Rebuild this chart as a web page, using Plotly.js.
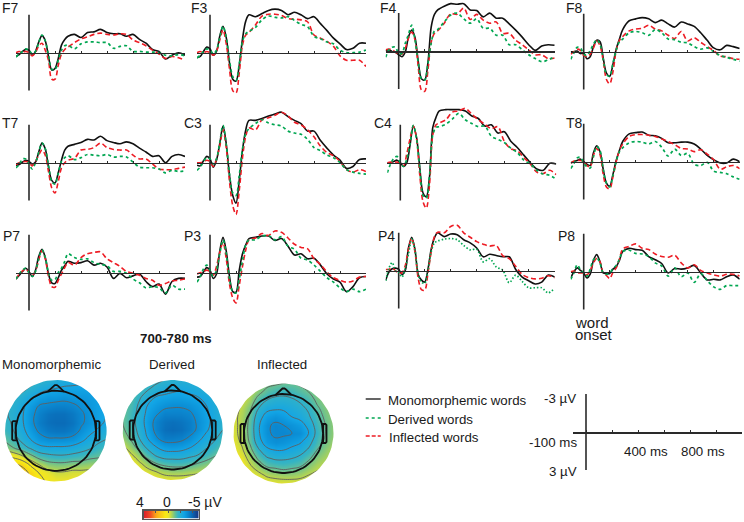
<!DOCTYPE html>
<html>
<head>
<meta charset="utf-8">
<script src="https://cdn.plot.ly/plotly-3.0.1.min.js"></script>
<style>html,body{margin:0;padding:0;background:#fff}#chart{width:744px;height:522px}</style>
</head>
<body>
<div id="chart"></div>
<script>
// Time in ms and amplitude in microvolts. Negative potentials are drawn upward in the figure; values below are stored as height above the baseline in the figure's own up direction.
const times = [-100,-75,-50,-25,0,25,50,75,100,125,150,175,200,225,250,275,300,350,400,450,500,550,600,650,700,750,800,850,900,950,1000,1050,1100,1150,1200];

const F7_mono = [-.3,-.15,.1,.25,.2,-.2,.1,.85,1.35,.95,-.3,-1.37,-1.25,-.45,.6,1.05,1.3,1.45,1.2,1.6,1.65,1.85,1.6,1.5,1.5,1.3,1.45,1.05,.75,.25,.1,-.5,-.2,0,-.2];
const F7_inflected = [0,.1,.05,.1,0,-.25,0,.55,.75,.2,-.6,-2.1,-2.1,-1.0,-.1,.25,.45,.8,1.1,1.25,1.45,1.55,1.45,1.4,1.5,1.45,1.0,.8,.55,.2,-.1,-.45,-.3,-.4,-.6];
const F7_derived = [-.35,-.1,.1,.3,.2,-.1,.1,.8,1.4,.95,-.2,-1.3,-1.35,-.6,.2,.55,.6,.3,.7,.85,.85,.8,.8,.35,.5,.55,.1,.1,.05,.05,0,-.2,-.25,-.15,-.25];

const F3_mono = [-.4,-.3,.1,.45,.3,-.2,.1,1.3,2.1,1.2,-.8,-2.1,-2.25,-1.0,1.1,2.5,3.0,2.85,3.1,3.35,3.45,3.35,3.0,3.2,3.0,2.7,2.85,2.3,1.75,1.15,.7,.25,.35,.75,.75];
const F3_inflected = [0,.1,0,.1,0,-.2,.1,1.0,1.8,.7,-1.3,-3.0,-3.2,-1.6,.6,1.4,1.6,2.2,2.9,3.05,3.05,2.95,2.7,2.65,2.6,2.45,1.4,1.15,.9,.5,-.25,-.6,-.6,-.6,-1.1];
const F3_derived = [-.4,-.2,.1,.3,.2,-.1,.2,1.2,2.1,1.2,-.6,-1.9,-2.2,-.9,.9,1.5,1.7,2.0,2.6,2.9,2.8,2.75,2.85,2.55,2.25,2.05,1.3,1.1,.85,.7,.2,0,0,.05,.2];

const F4_mono = [0,.1,-.05,-.1,-.3,-.45,-.1,1.1,1.65,1.1,-.8,-2.2,-2.3,-.9,1.9,2.9,3.25,3.55,3.75,3.7,3.75,3.25,3.2,2.7,3.0,2.6,2.6,2.15,1.65,1.1,.5,.05,.4,.5,.45];
const F4_inflected = [.1,.15,.1,-.1,-.2,-.25,.2,1.0,1.5,.9,-1.2,-3.1,-3.2,-1.5,.7,1.4,1.6,2.2,2.95,2.9,3.4,2.5,2.9,2.45,2.2,2.3,1.4,1.4,.85,.5,.1,-.3,-.3,-.6,-.55];
const F4_derived = [-.5,.1,.3,.3,-.2,-.2,.6,1.3,2.05,.9,-.9,-2.2,-2.3,-1.0,.6,1.6,1.7,2.3,2.85,3.0,2.55,2.2,2.55,1.8,1.8,1.25,1.25,.5,.5,.1,-.3,-.6,-.85,-.7,-.45];

const F8_mono = [0,0,.05,-.15,-.1,-.55,-.4,.4,.9,.8,-.5,-1.7,-1.95,-1.0,.2,1.0,1.75,2.45,2.6,2.7,2.6,2.3,2.5,2.2,1.95,2.35,2.2,2.0,1.5,.9,.3,.15,.5,.4,.25];
const F8_inflected = [-.2,0,.2,.1,-.3,-.4,-.2,.3,.85,.5,-.7,-2.2,-2.55,-1.6,.1,.9,1.2,1.65,1.8,1.85,2.1,1.8,1.65,1.3,1.05,1.6,.85,1.1,.75,.4,.1,-.35,-.4,-.55,-.6];
const F8_derived = [-.6,-.1,.35,.3,-.2,-.3,.1,.6,.95,.6,-.6,-1.8,-1.95,-.9,.1,.8,1.0,1.5,1.6,1.5,1.3,1.75,1.5,1.0,.95,.75,.7,.4,.2,.3,0,-.3,-.45,-.6,-.75];

const T7_mono = [-.2,-.15,.05,.2,.1,-.1,.05,.85,1.55,1.1,-.35,-1.4,-1.6,-.8,.2,1.0,1.3,1.45,1.6,1.85,1.8,2.1,1.75,1.6,1.5,1.65,1.5,1.15,.85,.5,.55,0,.5,.65,.5];
const T7_inflected = [-.15,0,.05,.1,0,-.25,.1,.6,1.0,.6,-.7,-2.0,-2.4,-1.5,-.4,0,.2,.35,1.0,1.05,1.2,1.55,1.2,1.05,1.0,1.0,.6,.3,.3,-.1,-.5,-.55,-.55,-.45,-.35];
const T7_derived = [-.4,-.15,.3,.3,-.1,-.5,0,.8,1.55,1.1,-.2,-1.5,-1.7,-.85,.1,.4,.55,.25,.4,.65,.6,.55,.65,.45,.5,.45,.05,-.35,-.4,-.4,-.5,-.8,-.6,-.7,-.65];

const C3_mono = [-.2,-.25,.15,.5,.3,-.35,.2,1.5,2.9,1.5,-1.0,-2.6,-3.2,-1.4,1.0,2.6,3.35,3.35,3.5,3.7,3.85,4.0,3.65,3.35,3.1,2.5,2.5,1.75,1.15,.6,.2,-.45,-.3,.25,.3];
const C3_inflected = [0,0,.1,.2,.1,-.3,.3,1.3,2.6,1.2,-1.5,-3.4,-4.1,-2.2,.4,2.1,2.75,2.6,3.4,3.55,3.75,4.0,3.7,3.2,3.0,2.6,2.05,1.3,.8,.55,.1,-.55,-.75,-.55,-.7];
const C3_derived = [-.6,-.35,.1,.4,.3,-.1,.3,1.6,2.95,1.4,-.9,-2.4,-2.6,-1.0,1.1,2.3,2.7,3.1,3.4,3.15,3.0,2.9,2.5,2.35,2.25,1.85,1.2,.95,.6,.4,0,-.55,-.75,-.85,-.9];

const C4_mono = [0,0,.1,.2,0,-.3,0,1.4,2.9,2.0,-.4,-2.4,-2.7,-1.1,2.8,3.6,4.1,4.2,4.2,4.2,4.1,3.7,3.5,2.9,3.0,2.35,2.45,1.7,1.2,.6,0,-.5,-.6,-.05,-.1];
const C4_inflected = [0,.05,0,.05,-.1,-.25,.7,1.9,2.9,1.9,-1.0,-3.1,-3.6,-1.7,2.2,3.0,3.15,3.4,4.0,4.1,4.3,3.85,3.4,3.05,2.7,2.85,1.7,1.1,.95,.4,-.1,-.75,-.85,-.6,-.95];
const C4_derived = [-.8,-.1,.35,.5,0,-.3,.3,1.5,2.95,1.9,-.5,-2.6,-2.8,-1.0,2.2,2.8,2.85,3.05,3.45,3.9,3.4,3.1,2.85,2.9,2.1,1.85,1.6,1.15,.8,.2,-.1,-.6,-.9,-1.0,-1.3];

const T8_mono = [-.1,0,.1,.2,0,-.2,-.3,.7,1.25,.8,-.6,-1.7,-1.95,-1.0,.1,.9,1.6,2.2,2.3,2.35,2.1,2.05,1.85,1.5,1.5,1.55,1.55,1.4,1.0,.5,.15,-.1,-.1,.2,0];
const T8_inflected = [-.1,.05,.1,.1,0,-.3,-.4,.5,1.05,.6,-1.0,-2.0,-2.15,-1.2,0,.9,1.4,2.0,2.15,2.15,2.1,2.0,1.8,1.6,1.35,1.05,1.0,.8,.95,.6,.15,-.6,-.4,-.3,-.55];
const T8_derived = [-.55,-.15,.3,.35,-.1,-.4,-.5,.4,1.2,.9,-.6,-1.7,-2.0,-1.1,0,.8,1.1,1.5,1.6,1.55,1.4,1.6,1.15,.45,1.0,.5,.65,-.2,-.3,-.05,-.75,-.85,-.95,-1.2,-1.4];

const P7_mono = [-.5,-.2,.1,.35,.1,-.3,.2,1.3,1.85,1.2,-.1,-.8,-.85,-.4,.2,.55,.9,.75,.8,.95,.6,.75,.45,-.45,-.05,-.4,-.25,-.1,-.7,-1.1,-.9,-1.7,-.7,-.45,-.45];
const P7_inflected = [-.5,-.1,.15,.3,0,-.2,.1,1.0,1.75,1.1,-.3,-1.1,-1.15,-.6,-.1,.4,.8,.6,1.2,1.5,1.6,1.65,1.1,.8,.5,.1,-.05,-.2,-.45,-.6,-1.0,-.85,-.65,-.6,-.5];
const P7_derived = [-.5,-.1,.2,.35,0,-.3,.1,1.1,1.8,1.2,0,-.6,-.55,0,.35,.9,1.5,1.2,1.05,1.1,.8,.65,.55,.1,.1,-.05,-.5,-.8,-1.2,-1.1,-1.2,-1.6,-1.0,-1.3,-1.3];

const P3_mono = [-.35,-.3,.05,.4,.2,-.45,-.1,1.7,2.8,1.7,-.3,-1.5,-1.55,.2,1.5,2.2,2.7,2.8,2.9,2.9,2.55,2.7,2.1,1.4,1.5,1.1,1.15,.6,-.1,-.5,-.75,-1.5,-1.1,-.4,-.3];
const P3_inflected = [-.1,0,.1,.2,.1,-.2,.5,1.6,2.4,1.1,-.9,-2.0,-2.4,-1.0,.5,1.8,2.6,2.75,3.1,2.95,3.3,3.2,2.75,2.25,2.0,1.9,1.1,.65,.05,-.4,-.6,-.75,-.65,-.35,-.3];
const P3_derived = [-.75,-.3,.3,.6,.2,-.3,.2,1.5,2.6,1.5,-.5,-1.5,-1.6,-.5,1.0,2.2,2.6,2.6,2.9,2.95,2.6,2.85,2.1,1.85,1.15,1.0,.6,.1,-.4,-.75,-1.2,-1.5,-1.3,-1.5,-1.3];

const P4_mono = [-.75,-.1,.15,.2,.1,-.3,0,1.8,2.65,1.7,-.3,-.75,-.9,.1,1.7,2.6,3.0,2.7,2.9,2.85,2.45,2.2,1.8,1.1,1.3,1.2,1.1,1.1,.1,-.5,-.8,-1.05,-.9,-.35,-.5];
const P4_inflected = [.1,.1,.2,0,-.2,-.15,.4,1.7,2.55,1.5,-.6,-1.5,-1.55,-.2,1.5,2.7,3.05,3.0,3.5,3.6,3.0,2.65,2.3,2.1,1.95,2.0,1.2,.95,.35,-.3,-.55,-.65,-.6,-.4,-.55];
const P4_derived = [-.8,.2,.65,0,-.15,-.5,.2,1.3,2.5,1.6,-.3,-.9,-1.0,0,1.5,2.2,2.35,2.5,2.55,2.45,2.0,1.65,1.7,.7,.95,.3,.05,-.95,-.35,-.85,-1.35,-1.35,-1.35,-1.75,-1.4];

const P8_mono = [-.5,0,.3,.1,-.1,-.5,-.2,.9,1.35,.8,-.1,-.15,-.15,.2,.4,.9,1.6,1.85,1.75,1.7,1.2,.95,.65,-.1,.25,.2,.3,.5,-.1,-.65,-.6,-.65,-.4,-.25,-.6];
const P8_inflected = [0,.05,-.1,-.1,-.1,-.25,.1,.7,1.05,.8,-.1,-.3,-.55,-.05,.3,1.0,1.8,2.0,2.2,1.85,1.75,1.4,1.2,1.15,1.3,.7,.3,.55,.1,-.1,-.25,-.35,-.2,-.2,-.35];
const P8_derived = [-.6,-.1,.55,.15,-.1,-.35,.2,.95,1.1,.7,-.1,-.2,-.1,.25,.5,1.0,1.6,1.7,1.45,1.4,1.2,.7,.45,-.35,.3,-.4,-.1,-.85,-.15,-.7,-1.2,-1.4,-1.1,-1.1,-1.1];

// Scalp maps: potential in microvolts on a coarse grid, first row = back of the head (bottom).
const gridAxis = [-1,-.833,-.667,-.5,-.333,-.167,0,.167,.333,.5,.667,.833,1];
const mapMono = [
[1.6,1.6,1.4,1.1,.7,.3,.1,.1,.1,.1,.1,.05,0],
[1.6,1.6,1.4,1.0,.4,0,-.2,-.2,-.1,-.1,-.1,-.2,-.2],
[1.4,1.2,1.0,.3,-.3,-.7,-.8,-.8,-.7,-.7,-.6,-.6,-.6],
[.5,.2,-.2,-.8,-1.3,-1.5,-1.6,-1.6,-1.5,-1.4,-1.2,-1.1,-1.0],
[-.7,-1.0,-1.4,-1.8,-2.2,-2.3,-2.3,-2.3,-2.2,-2.0,-1.8,-1.5,-1.4],
[-1.1,-1.4,-1.9,-2.4,-2.8,-3.0,-3.0,-3.0,-2.9,-2.6,-2.2,-1.9,-1.7],
[-1.4,-1.7,-2.2,-2.7,-3.2,-3.5,-3.6,-3.6,-3.4,-3.0,-2.6,-2.3,-2.0],
[-1.5,-1.8,-2.3,-2.9,-3.4,-3.7,-3.8,-3.8,-3.6,-3.2,-2.9,-2.6,-2.3],
[-1.6,-1.9,-2.3,-2.9,-3.3,-3.6,-3.7,-3.7,-3.5,-3.2,-2.9,-2.6,-2.4],
[-1.5,-1.8,-2.2,-2.7,-3.1,-3.2,-3.3,-3.3,-3.2,-3.0,-2.8,-2.6,-2.4],
[-1.3,-1.6,-1.9,-2.3,-2.6,-2.8,-2.8,-2.9,-2.8,-2.8,-2.7,-2.6,-2.5],
[-1.2,-1.3,-1.5,-1.8,-2.1,-2.3,-2.4,-2.5,-2.5,-2.5,-2.5,-2.5,-2.4],
[-1.0,-1.1,-1.2,-1.4,-1.6,-1.8,-2.0,-2.1,-2.2,-2.3,-2.4,-2.4,-2.4]];
const mapDerived = [
[.8,.6,.4,.2,.1,0,0,0,0,0,0,0,0],
[.7,.5,.2,-.1,-.3,-.5,-.6,-.6,-.5,-.4,-.3,-.2,-.1],
[.5,.2,-.2,-.6,-1.0,-1.2,-1.3,-1.3,-1.2,-1.0,-.8,-.6,-.4],
[.2,-.2,-.7,-1.3,-1.8,-2.1,-2.1,-2.1,-1.9,-1.7,-1.4,-1.1,-.8],
[-.2,-.7,-1.3,-1.9,-2.4,-2.7,-2.8,-2.7,-2.5,-2.2,-1.8,-1.5,-1.1],
[-.6,-1.1,-1.7,-2.4,-3.0,-3.4,-3.4,-3.3,-3.0,-2.6,-2.2,-1.8,-1.4],
[-.9,-1.3,-1.9,-2.6,-3.3,-3.7,-3.8,-3.7,-3.4,-3.0,-2.5,-2.1,-1.7],
[-1.0,-1.4,-2.0,-2.7,-3.3,-3.6,-3.7,-3.6,-3.4,-3.0,-2.6,-2.2,-1.8],
[-1.0,-1.4,-1.9,-2.6,-3.0,-3.3,-3.3,-3.3,-3.2,-2.9,-2.5,-2.2,-1.8],
[-1.0,-1.3,-1.8,-2.4,-2.7,-2.9,-3.0,-3.0,-2.9,-2.7,-2.4,-2.1,-1.8],
[-1.0,-1.2,-1.6,-2.0,-2.4,-2.5,-2.6,-2.6,-2.5,-2.4,-2.2,-1.9,-1.7],
[-.9,-1.1,-1.3,-1.6,-1.9,-2.1,-2.2,-2.3,-2.2,-2.1,-1.9,-1.7,-1.5],
[-.8,-.9,-1.1,-1.3,-1.5,-1.7,-1.8,-1.9,-1.9,-1.8,-1.7,-1.5,-1.3]];
const mapInflected = [
[.3,.3,.3,.2,.1,0,0,0,0,0,0,0,0],
[.3,.3,.1,-.1,-.4,-.5,-.6,-.6,-.5,-.3,-.2,-.1,-.1],
[.3,.2,-.2,-.6,-1.0,-1.1,-1.2,-1.1,-1.0,-.7,-.4,-.3,-.2],
[.3,0,-.5,-1.1,-1.6,-1.8,-1.8,-1.7,-1.5,-1.1,-.7,-.5,-.3],
[.1,-.2,-.8,-1.6,-2.2,-2.4,-2.4,-2.2,-2.0,-1.6,-1.0,-.7,-.4],
[0,-.4,-1.1,-2.1,-2.8,-3.0,-2.9,-2.7,-2.5,-2.0,-1.3,-.9,-.6],
[-.1,-.5,-1.2,-2.3,-3.0,-3.2,-3.2,-3.1,-3.0,-2.4,-1.5,-1.0,-.7],
[-.1,-.5,-1.2,-2.3,-3.0,-3.2,-3.1,-2.9,-2.7,-2.2,-1.4,-1.0,-.7],
[-.1,-.5,-1.1,-2.1,-2.7,-2.9,-2.7,-2.4,-2.2,-1.8,-1.3,-.9,-.7],
[0,-.4,-.9,-1.7,-2.2,-2.3,-2.3,-2.1,-1.9,-1.6,-1.1,-.8,-.6],
[.1,-.2,-.6,-1.3,-1.7,-1.9,-1.9,-1.8,-1.6,-1.3,-.9,-.7,-.5],
[.2,-.1,-.4,-.8,-1.2,-1.4,-1.5,-1.4,-1.2,-1.0,-.7,-.5,-.4],
[.2,0,-.2,-.5,-.8,-.9,-1.0,-1.0,-.9,-.7,-.5,-.4,-.3]];
const colorbarValues = [4,3.5,3,2.5,2,1.5,1,.5,0,-.5,-1,-1.5,-2,-2.5,-3,-3.5,-4,-4.5,-5];
const colorbarRow = [0,1];

// Head outline in units of the coloured disc radius
const noseX = [-.16,-.05,-.02,.02,.05,.16];
const noseY = [.77,.88,.90,.90,.88,.77];
const earX = [.77,.84,.86,.86,.84,.77];
const earY = [.19,.19,.17,-.17,-.19,-.19];
const earInnerX = [.80,.80];
const earInnerY = [.17,-.17];

const seriesNames = ['Monomorphemic words','Derived words','Inflected words'];
const seriesStyle = {
  mono: {color:'#111111', width:1.6, dash:'solid'},
  inflected: {color:'#ed1c24', width:1.6, dash:'5px,3px'},
  derived: {color:'#00a651', width:1.7, dash:'3px,3px'}
};
const mapScale = [[0,'#1b2f7b'],[.133,'#0a6cb8'],[.22,'#0b8fd6'],[.28,'#12a5e6'],[.39,'#35b4c4'],[.45,'#6cc28f'],[.5,'#a8d25c'],[.56,'#ebe32a'],[.62,'#f8ea14'],[.78,'#f9a51b'],[.88,'#f04e23'],[1,'#d9202a']];

const W = 744, H = 522, PX_UV = 12.63, PX_MS = 0.13;
const px = v => v / W, py = v => 1 - v / H;

const panels = [
 ['F7',F7_mono,F7_derived,F7_inflected,29,52.7,2,8],
 ['F3',F3_mono,F3_derived,F3_inflected,210,52.7,191,8],
 ['F4',F4_mono,F4_derived,F4_inflected,398.7,51,380,8],
 ['F8',F8_mono,F8_derived,F8_inflected,583.7,51.7,566,8],
 ['T7',T7_mono,T7_derived,T7_inflected,29,162.7,2,123],
 ['C3',C3_mono,C3_derived,C3_inflected,210,162.7,184,123],
 ['C4',C4_mono,C4_derived,C4_inflected,400.3,162.7,374,123],
 ['T8',T8_mono,T8_derived,T8_inflected,583.7,161.7,566,123],
 ['P7',P7_mono,P7_derived,P7_inflected,29,272.7,3,236],
 ['P3',P3_mono,P3_derived,P3_inflected,210,272.7,184,236],
 ['P4',P4_mono,P4_derived,P4_inflected,398.7,270.7,378,236],
 ['P8',P8_mono,P8_derived,P8_inflected,583.7,271.7,558,236]
];

const data = [], annotations = [], shapes = [];
const layout = {width:W,height:H,margin:{l:0,r:0,t:0,b:0},paper_bgcolor:'#fff',plot_bgcolor:'rgba(0,0,0,0)',showlegend:false,hovermode:false,font:{family:'"Liberation Sans", Arial, sans-serif',size:13.3,color:'#1a1a1a'},annotations,shapes};
let axisCount = 0;

function note(text,x,y,anchor,opts){
  annotations.push(Object.assign({text,x:px(x),y:py(y),xref:'paper',yref:'paper',xanchor:anchor||'left',yanchor:'middle',showarrow:false,font:{size:13.3},borderpad:0,borderwidth:0},opts||{}));
}
function erpAxes(ax,zero){
  axisCount++;
  const n = axisCount, xn = n===1?'x':'x'+n, yn = n===1?'y':'y'+n;
  const hi = Math.min(4.7,(zero-0.5)/PX_UV), lo = -4.7;
  layout['xaxis'+(n===1?'':n)] = {domain:[px(ax-100*PX_MS),px(ax+1200*PX_MS)],range:[-100,1200],anchor:'free',position:py(zero),showline:true,linecolor:'#2a2a2a',linewidth:1.5,ticks:'inside',ticklen:2,tickwidth:1,tickcolor:'#2a2a2a',tick0:0,dtick:200,showticklabels:false,showgrid:false,zeroline:false,fixedrange:true};
  layout['yaxis'+(n===1?'':n)] = {domain:[py(zero-lo*PX_UV),py(zero-hi*PX_UV)],range:[lo,hi],anchor:xn,showline:false,showticklabels:false,ticks:'',showgrid:false,zeroline:false,fixedrange:true};
  // the vertical axis runs from -3 to 3 microvolts
  data.push({type:'scatter',mode:'lines',x:[0,0],y:[-3,3],xaxis:xn,yaxis:yn,line:{color:'#2a2a2a',width:1.6},hoverinfo:'skip'});
  return [xn,yn];
}

panels.forEach(p=>{
  const [name,mono,derived,inflected,ax,zero,lx,ly] = p;
  const [xn,yn] = erpAxes(ax,zero);
  [[mono,'mono',0],[inflected,'inflected',2],[derived,'derived',1]].forEach(s=>{
    const style = Object.assign({},seriesStyle[s[1]]);
    if(name==='P4' && s[1]==='derived') style.dash='1.5px,2px';
    data.push({type:'scatter',mode:'lines',name:seriesNames[s[2]],x:times,y:s[0],xaxis:xn,yaxis:yn,line:Object.assign({shape:'spline',smoothing:0.9},style),hoverinfo:'skip'});
  });
  note(name,lx,ly,'left',{font:{size:14}});
});

// reference axes at the lower right
erpAxes(586,432);
note('-3 µV',576,398,'right');
note('3 µV',577,471,'right');
note('-100 ms',577,442,'right');
note('400 ms',646,451,'center');
note('800 ms',703,451,'center');

// scalp maps
const R = 1.1;
function circle(r,n,reverse){
  const xs=[],ys=[];
  for(let i=0;i<=n;i++){const a=(reverse?-1:1)*i/n*2*Math.PI;xs.push(r*Math.cos(a));ys.push(r*Math.sin(a));}
  return [xs,ys];
}
[[mapMono,55.8,430.8,50.8,'Monomorphemic',52],[mapDerived,172.7,430,50,'Derived',172],[mapInflected,283.5,433.5,50,'Inflected',282]].forEach(m=>{
  const [z,cx,cy,r,title,tx] = m;
  axisCount++;
  const n=axisCount, xn='x'+n, yn='y'+n;
  layout['xaxis'+n]={domain:[px(cx-R*r),px(cx+R*r)],range:[-R,R],visible:false,fixedrange:true,anchor:yn};
  layout['yaxis'+n]={domain:[py(cy+R*r),py(cy-R*r)],range:[-R,R],visible:false,fixedrange:true,anchor:xn};
  data.push({type:'heatmap',x:gridAxis,y:gridAxis,z,zmin:-5,zmax:4,colorscale:mapScale,zsmooth:'best',showscale:false,xaxis:xn,yaxis:yn,hoverinfo:'skip'});
  data.push({type:'contour',x:gridAxis,y:gridAxis,z,showscale:false,xaxis:xn,yaxis:yn,autocontour:false,contours:{coloring:'none',start:-3.1,end:1.4,size:.7},line:{color:'#5f5f5f',width:.9,smoothing:1.2},hoverinfo:'skip'});
  // white surround turns the square grid into a disc
  const [ix,iy]=circle(1,90,true);
  data.push({type:'scatter',mode:'lines',x:[1,R,R,-R,-R,R,R,1].concat(ix),y:[0,0,R,R,-R,-R,0,0].concat(iy),fill:'toself',fillcolor:'#fff',line:{width:0,color:'#fff'},xaxis:xn,yaxis:yn,hoverinfo:'skip'});
  const head={type:'scatter',mode:'lines',xaxis:xn,yaxis:yn,line:{color:'#111',width:1.8},hoverinfo:'skip'};
  const [hx,hy]=circle(.79,90,false);
  data.push(Object.assign({},head,{x:hx,y:hy}));
  data.push(Object.assign({},head,{x:noseX,y:noseY}));
  data.push(Object.assign({},head,{x:earX,y:earY}));
  data.push(Object.assign({},head,{x:earX.map(v=>-v),y:earY}));
  data.push(Object.assign({},head,{x:earInnerX,y:earInnerY,line:{color:'#111',width:1}}));
  data.push(Object.assign({},head,{x:earInnerX.map(v=>-v),y:earInnerY,line:{color:'#111',width:1}}));
  note(title,tx,364,'center');
});

// colour bar
axisCount++;
{
  const n=axisCount, xn='x'+n, yn='y'+n;
  layout['xaxis'+n]={domain:[px(143.5),px(199)],range:[4,-5],anchor:yn,side:'top',showline:true,mirror:true,linecolor:'#555',linewidth:1.2,ticks:'inside',ticklen:2,tickwidth:1,tickcolor:'#555',tickvals:[2,0,-2,-4],showticklabels:false,showgrid:false,zeroline:false,fixedrange:true};
  layout['yaxis'+n]={domain:[py(518.5),py(510.5)],range:[0,1],anchor:xn,showline:true,mirror:true,linecolor:'#555',linewidth:1.2,ticks:'',showticklabels:false,showgrid:false,zeroline:false,fixedrange:true};
  data.push({type:'heatmap',x:colorbarValues,y:colorbarRow,z:colorbarRow.map(()=>colorbarValues),zmin:-5,zmax:4,colorscale:mapScale,zsmooth:'best',showscale:false,xaxis:xn,yaxis:yn,hoverinfo:'skip'});
}
note('4',140,502,'center',{font:{size:14}});
note('0',167,502,'center',{font:{size:14}});
note('-5 µV',188,502,'left',{font:{size:14}});

// legend
[[399,seriesStyle.mono,'Monomorphemic words',387.7,400,'solid'],[418,seriesStyle.derived,'Derived words',387.7,419,'3px,3px'],[436,seriesStyle.inflected,'Inflected words',388.7,437.7,'4px,2px']].forEach(l=>{
  shapes.push({type:'line',xref:'paper',yref:'paper',x0:px(365.7),x1:px(380.7),y0:py(l[0]),y1:py(l[0]),line:{color:l[1].color,width:1.3,dash:l[5]}});
  note(l[2],l[3],l[4]);
});

note('700-780 ms',175.5,338,'center',{font:{size:13.3,color:'#1a1a1a',weight:'bold'}});
note('word',575,322.5,'left',{font:{size:15}});
note('onset',575,334.5,'left',{font:{size:15}});

Plotly.newPlot('chart',data,layout,{staticPlot:true,displayModeBar:false});
</script>
</body>
</html>
